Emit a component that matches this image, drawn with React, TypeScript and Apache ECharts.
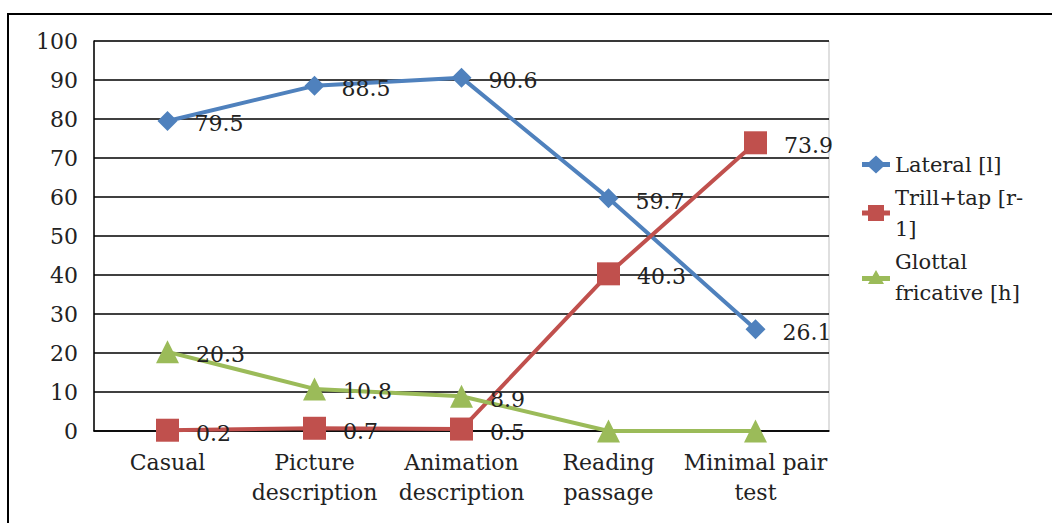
import React, { useEffect, useRef } from "react";
import * as echarts from "echarts";

// Speech styles on the x axis
const categories = [
  "Casual",
  "Picture\ndescription",
  "Animation\ndescription",
  "Reading\npassage",
  "Minimal pair\ntest",
];

// Percentage of each variant per style
const lateral = [79.5, 88.5, 90.6, 59.7, 26.1];
const trillTap = [0.2, 0.7, 0.5, 40.3, 73.9];
const glottal = [20.3, 10.8, 8.9, 0, 0];

const seriesNames = ["Lateral [l]", "Trill+tap [r-\n1]", "Glottal\nfricative [h]"];
const yTicks = { min: 0, max: 100, interval: 10 };

const FONT = "DejaVu Serif";
const FS = 22;

// Legend glyphs: a thick line segment with the series marker on it
const ICON_DIAMOND = "path://M0,6.5H7L14,0L21,6.5H28V11.5H21L14,18L7,11.5H0Z";
const ICON_SQUARE = "path://M0,6.5H6V1H22V6.5H28V11.5H22V17H6V11.5H0Z";
const ICON_TRIANGLE = "path://M0,7H10.57L14,1L17.43,7H28V12H20.29L22,15H6L7.71,12H0Z";

export default function App() {
  const ref = useRef<HTMLDivElement>(null);

  useEffect(() => {
    if (!ref.current) return;
    const chart = echarts.init(ref.current, undefined, { renderer: "svg" });

    const valueLabel = {
      show: true,
      position: "right" as const,
      distance: 17,
      offset: [0, 3],
      color: "#222",
      fontFamily: FONT,
      fontSize: FS,
      formatter: (p: any) => (p.value === 0 ? "" : String(p.value)),
    };

    const mk = (name: string, data: number[], color: string, symbol: string, size: number) => ({
      type: "line" as const,
      name,
      data,
      symbol,
      symbolSize: size,
      showAllSymbol: true,
      lineStyle: { color, width: 4 },
      itemStyle: { color },
      label: valueLabel,
      z: 2,
    });

    chart.setOption({
      animation: false,
      backgroundColor: "#fff",
      textStyle: { fontFamily: FONT },
      graphic: [
        {
          type: "rect",
          shape: { x: 8, y: 14, width: 1200, height: 700 },
          style: { fill: "none", stroke: "#000", lineWidth: 2 },
          silent: true,
        },
      ],
      grid: {
        left: 94,
        right: 223,
        top: 41,
        bottom: 92,
        show: true,
        borderColor: "#bfbfbf",
        borderWidth: 1,
        backgroundColor: "transparent",
      },
      legend: {
        orient: "vertical",
        left: 857,
        top: 144,
        itemWidth: 28,
        itemHeight: 18,
        itemGap: 2,
        textStyle: { fontFamily: FONT, fontSize: 21, color: "#222", lineHeight: 31 },
        data: [
          { name: seriesNames[0], icon: ICON_DIAMOND },
          { name: seriesNames[1], icon: ICON_SQUARE },
          { name: seriesNames[2], icon: ICON_TRIANGLE },
        ],
      },
      xAxis: {
        type: "category",
        data: categories,
        boundaryGap: true,
        axisTick: { show: false },
        axisLine: { show: true, lineStyle: { color: "#000", width: 1.5 } },
        axisLabel: {
          interval: 0,
          margin: 16,
          fontFamily: FONT,
          fontSize: FS,
          color: "#222",
          lineHeight: 30,
        },
      },
      yAxis: {
        type: "value",
        min: yTicks.min,
        max: yTicks.max,
        interval: yTicks.interval,
        axisTick: { show: false },
        axisLine: { show: true, lineStyle: { color: "#000", width: 1.5 } },
        splitLine: { show: true, lineStyle: { color: "#000", width: 1.5 } },
        axisLabel: { margin: 16, fontFamily: FONT, fontSize: FS, color: "#222" },
      },
      series: [
        mk(seriesNames[0], lateral, "#4F81BD", "diamond", 20),
        mk(seriesNames[1], trillTap, "#C0504D", "rect", 23),
        mk(seriesNames[2], glottal, "#9BBB59", "triangle", 23),
      ],
    });

    return () => chart.dispose();
  }, []);

  return (
    <div
      ref={ref}
      style={{ position: "fixed", left: 0, top: 0, width: 1052, height: 523, background: "#fff" }}
    />
  );
}
